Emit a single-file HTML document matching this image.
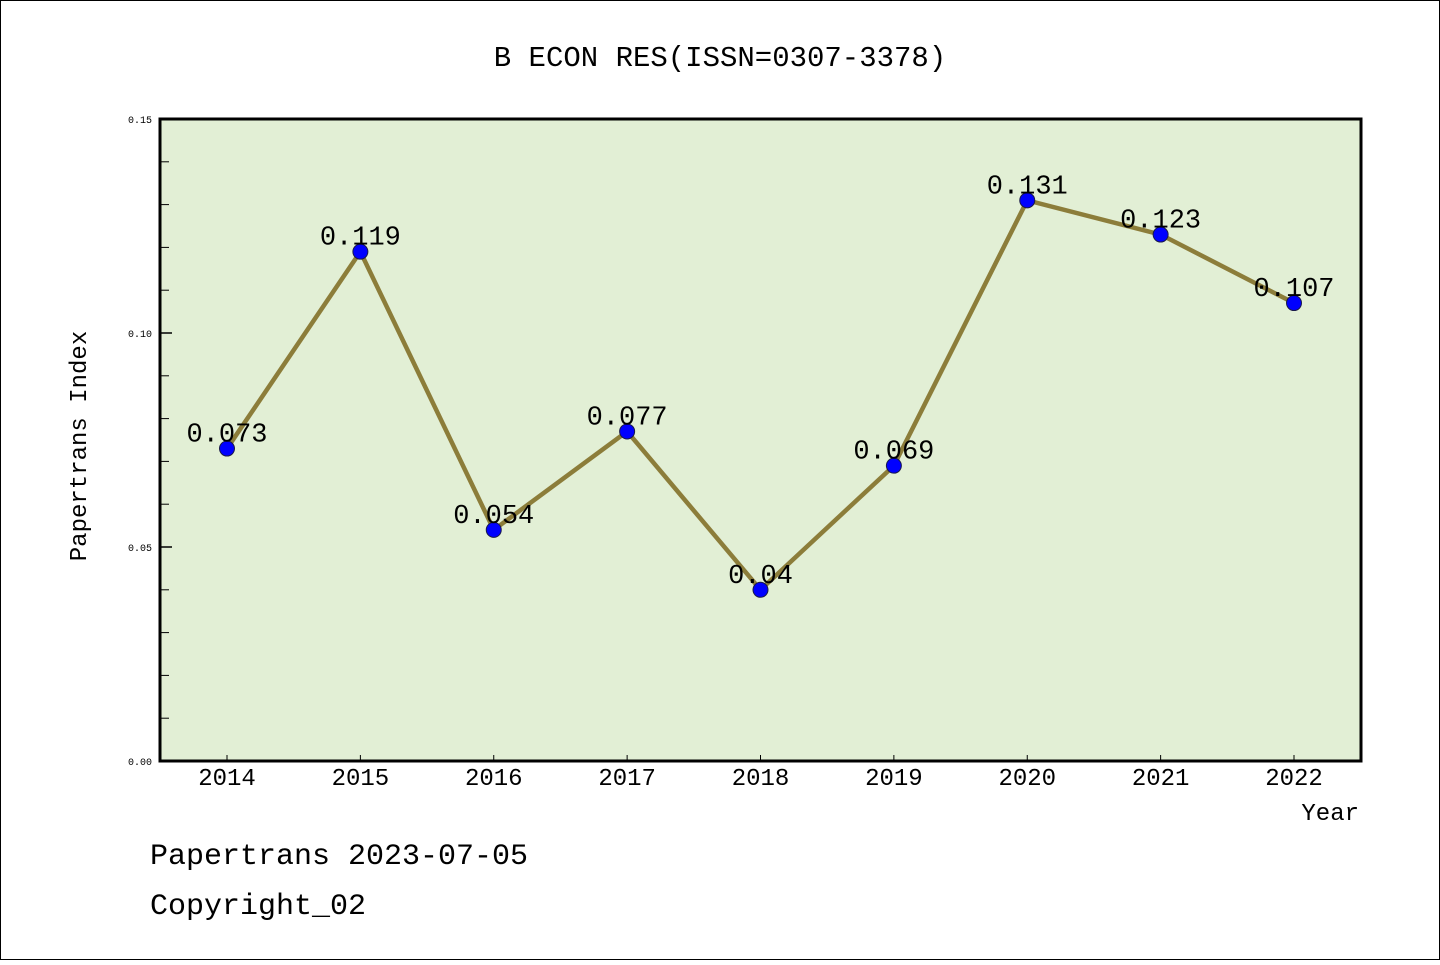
<!DOCTYPE html>
<html><head><meta charset="utf-8"><style>
body{margin:0;background:#fff}
svg text{font-family:"Liberation Mono","Noto Sans CJK SC",monospace;fill:#000}
</style></head><body>
<svg width="1440" height="960" viewBox="0 0 1440 960" id="c">
<rect x="0.5" y="0.5" width="1439" height="959" fill="#fff" stroke="#000"/>
<text x="720" y="66" font-size="29" text-anchor="middle">B ECON RES(ISSN=0307-3378)</text>
<rect x="160" y="119" width="1201" height="642" fill="#e2efd5"/>
<g id="ax"></g>
<g id="series"></g>
<rect x="160" y="119" width="1201" height="642" fill="none" stroke="#000" stroke-width="3"/>
<text x="86" y="446" font-size="24" text-anchor="middle" transform="rotate(-90 86 446)">Papertrans Index</text>
<text x="1359" y="820" font-size="24" text-anchor="end">Year</text>
<text x="150" y="864" font-size="30">Papertrans 2023-07-05</text>
<text x="150" y="914" font-size="30">Copyright_02</text>
</svg>
<script>
const years=["2014","2015","2016","2017","2018","2019","2020","2021","2022"];
const values=[0.073,0.119,0.054,0.077,0.04,0.069,0.131,0.123,0.107];
const valueLabels=["0.073","0.119","0.054","0.077","0.04","0.069","0.131","0.123","0.107"];
const yTicks=[0,0.05,0.10,0.15];
const yTickLabels=["0.00","0.05","0.10","0.15"];
const yMinor=[0.01,0.02,0.03,0.04,0.06,0.07,0.08,0.09,0.11,0.12,0.13,0.14];
const NS="http://www.w3.org/2000/svg";
function y(v){return 761-v/0.15*642;}
function x(i){return 227+i*(1294-227)/(years.length-1);}
function mk(t,a,p){const e=document.createElementNS(NS,t);for(const k in a)e.setAttribute(k,a[k]);p.appendChild(e);return e;}
const ax=document.getElementById('ax'),s=document.getElementById('series');
yTicks.forEach((v,i)=>{
 const l=mk('line',{x1:160,x2:172,y1:y(v),y2:y(v),stroke:'#000','stroke-width':1.5},ax);
 
 
 const t=mk('text',{x:152,y:y(v)+4,'font-size':10,'text-anchor':'end'},ax);
 
 
 t.textContent=yTickLabels[i];
});
yMinor.forEach(v=>{
 const l=mk('line',{x1:160,x2:169,y1:y(v),y2:y(v),stroke:'#000','stroke-width':1},ax);
 
 
});
years.forEach((yr,i)=>{
 const l=mk('line',{x1:x(i),x2:x(i),y1:761,y2:755,stroke:'#000','stroke-width':1},ax);
 
 
 const t=mk('text',{x:x(i),y:785,'font-size':24,'text-anchor':'middle'},ax);
 
 
 t.textContent=yr;
});
const pl=mk('polyline',{points:values.map((v,i)=>x(i)+','+y(v)).join(' '),fill:'none',stroke:'#8c7d3a','stroke-width':4.5},s);


values.forEach((v,i)=>{
 const c=mk('circle',{cx:x(i),cy:y(v),r:7.5,fill:'#0000ff',stroke:'#1a1a4a','stroke-width':1},s);
 
 
 const t=mk('text',{x:x(i),y:y(v)-7,'font-size':27,'text-anchor':'middle'},s);
 
 
 t.textContent=valueLabels[i];
});
</script>
</body></html>
